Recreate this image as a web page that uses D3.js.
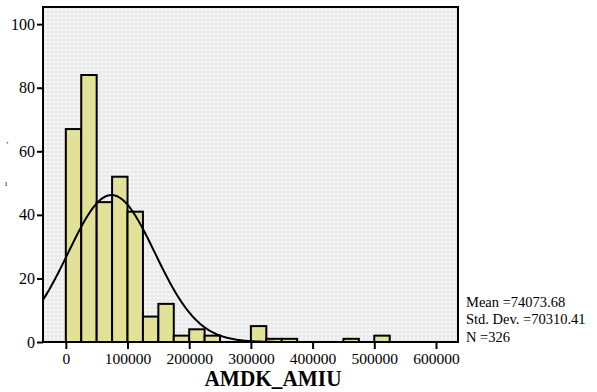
<!DOCTYPE html>
<html>
<head>
<meta charset="utf-8">
<script src="https://cdn.jsdelivr.net/npm/d3@7"></script>
<style>
  body { margin: 0; background: #fff; }
  text { font-family: "Liberation Serif", "Times New Roman", serif; }
</style>
</head>
<body>
<div id="chart"></div>
<script>
// histogram bins (lower edge, width 25000) and counts
const binStarts = [0, 25000, 50000, 75000, 100000, 125000, 150000, 175000, 200000, 225000,
  300000, 325000, 350000, 450000, 500000];
const binCounts = [67, 84, 44, 52, 41, 8, 12, 2, 4, 2, 5, 1, 1, 1, 2];
const binWidth = 25000;

const xTicks = [0, 100000, 200000, 300000, 400000, 500000, 600000];
const yTicks = [0, 20, 40, 60, 80, 100];

const stats = { mean: 74073.68, sd: 70310.41, n: 326 };
const statLabels = ["Mean =74073.68", "Std. Dev. =70310.41", "N =326"];

const width = 597, height = 392;
const margin = { top: 7, right: 139, bottom: 50, left: 43 };

const svg = d3.select("#chart").append("svg")
  .attr("width", width)
  .attr("height", height);

const x = d3.scaleLinear([-37000, 635700], [margin.left, width - margin.right]);
const y = d3.scaleLinear([0, 105.4], [height - margin.bottom, margin.top]);

// dotted background pattern
const defs = svg.append("defs");
const pat = defs.append("pattern")
  .attr("id", "dots")
  .attr("width", 4).attr("height", 4)
  .attr("patternUnits", "userSpaceOnUse");
pat.append("rect").attr("width", 4).attr("height", 4).attr("fill", "#ebebeb");
pat.append("rect").attr("x", 1).attr("y", 1).attr("width", 2).attr("height", 2).attr("fill", "#f9f9f9");

svg.append("rect")
  .attr("x", margin.left).attr("y", margin.top)
  .attr("width", x.range()[1] - x.range()[0])
  .attr("height", y.range()[0] - y.range()[1])
  .attr("fill", "url(#dots)");

// bars
svg.append("g")
  .attr("fill", "#e1e297")
  .attr("stroke", "#000")
  .attr("stroke-width", 2)
  .selectAll("rect")
  .data(binStarts.map((s, i) => ({ s, c: binCounts[i] })))
  .join("rect")
  .attr("x", d => x(d.s))
  .attr("width", d => x(d.s + binWidth) - x(d.s))
  .attr("y", d => y(d.c))
  .attr("height", d => y(0) - y(d.c));

// normal curve from the reported mean / sd
const scaleK = stats.n * binWidth / (stats.sd * Math.sqrt(2 * Math.PI));
const curveX = d3.range(x.domain()[0], x.domain()[1], 2000);
const line = d3.line()
  .x(v => x(v))
  .y(v => y(scaleK * Math.exp(-0.5 * ((v - stats.mean) / stats.sd) ** 2)));

svg.append("path")
  .datum(curveX)
  .attr("fill", "none")
  .attr("stroke", "#000")
  .attr("stroke-width", 2)
  .attr("d", line);

// frame
svg.append("rect")
  .attr("x", margin.left).attr("y", margin.top)
  .attr("width", x.range()[1] - x.range()[0])
  .attr("height", y.range()[0] - y.range()[1])
  .attr("fill", "none")
  .attr("stroke", "#000")
  .attr("stroke-width", 2);

// axes
const yAxis = svg.append("g")
  .attr("transform", `translate(${margin.left},0)`)
  .call(d3.axisLeft(y).tickValues(yTicks).tickSize(6).tickPadding(2));
const xAxis = svg.append("g")
  .attr("transform", `translate(0,${height - margin.bottom})`)
  .call(d3.axisBottom(x).tickValues(xTicks).tickSize(7).tickPadding(4).tickFormat(d3.format("d")));

[yAxis, xAxis].forEach(g => {
  g.attr("font-family", '"Liberation Serif", serif');
  g.select(".domain").remove();
  g.selectAll("line").attr("stroke", "#000").attr("stroke-width", 2);
  g.selectAll("text").attr("fill", "#000");
});
yAxis.selectAll("text").attr("font-size", 16);
xAxis.selectAll("text").attr("font-size", 15.5);

// x axis title
svg.append("text")
  .attr("x", 273).attr("y", 386)
  .attr("text-anchor", "middle")
  .attr("font-size", 23)
  .attr("font-weight", "bold")
  .attr("textLength", 137)
  .attr("lengthAdjust", "spacingAndGlyphs")
  .text("AMDK_AMIU");

// faint y axis title remnants
svg.append("text").attr("x", 6).attr("y", 148).attr("font-size", 8).text("ʼ");
svg.append("text").attr("x", 5).attr("y", 186).attr("font-size", 8).text("ı");

// statistics block
svg.append("g")
  .selectAll("text")
  .data(statLabels)
  .join("text")
  .attr("x", 466)
  .attr("y", (d, i) => 306.5 + i * 17.5)
  .attr("font-size", 14.5)
  .text(d => d);
</script>
</body>
</html>
